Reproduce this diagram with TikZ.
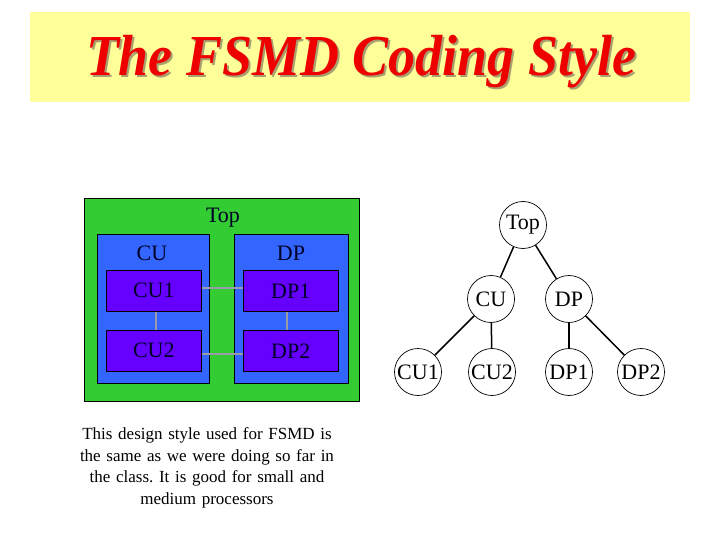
\documentclass[tikz,border=0pt]{standalone}
\usepackage{fontspec}
\setmainfont{Liberation Serif}
\definecolor{titlebg}{HTML}{FFFF99}
\definecolor{titlered}{HTML}{EE0000}
\definecolor{titleshadow}{HTML}{A8A070}
\definecolor{topgreen}{HTML}{33CC33}
\definecolor{boxblue}{HTML}{3366FF}
\definecolor{boxpurple}{HTML}{6600FF}
\definecolor{boxtext}{HTML}{000028}
\definecolor{linkgray}{HTML}{9A9AA8}
\begin{document}
\frenchspacing
\begin{tikzpicture}[x=1pt,y=-1pt,
  lbl/.style={font=\fontsize{22}{24}\selectfont, inner sep=0pt},
  subbox/.style={draw=black, fill=boxpurple, line width=0.6pt},
  link/.style={draw=linkgray, line width=1.8pt},
  tnode/.style={draw=black, circle, line width=0.7pt, minimum size=47pt, inner sep=0pt, font=\fontsize{22}{24}\selectfont},
  tedge/.style={draw=black, line width=1.5pt}]
\useasboundingbox (0,0) rectangle (720,540);
\fill[white] (0,0) rectangle (720,540);
% title
\fill[titlebg] (30,12) rectangle (690,102);
\node[font=\fontsize{58}{60}\bfseries\itshape\selectfont, text=titleshadow, xscale=0.93] (titleshadow) at (363,64) {The FSMD Coding Style};
\node[font=\fontsize{58}{60}\bfseries\itshape\selectfont, text=titlered, xscale=0.93] (title) at (361,62) {The FSMD Coding Style};
% block diagram
\draw[fill=topgreen, line width=0.8pt] (84,198) rectangle (359,401);
\node[lbl, text=boxtext] (toplbl) at (223,218) {Top};
\draw[fill=boxblue, line width=0.7pt] (97,234) rectangle (209,383);
\draw[fill=boxblue, line width=0.7pt] (234,234) rectangle (348,383);
\node[lbl, text=boxtext] (culbl) at (152,253) {CU};
\node[lbl, text=boxtext] (dplbl) at (291,253) {DP};
\path[link] (201,288) -- (243,288);
\path[link] (201,354) -- (243,354);
\path[link] (156,311) -- (156,330);
\path[link] (287,311) -- (287,330);
\node[subbox, minimum width=95pt, minimum height=41pt, anchor=north west] (cu1) at (106,270) {};
\node[subbox, minimum width=95pt, minimum height=41pt, anchor=north west] (cu2) at (106,330) {};
\node[subbox, minimum width=95pt, minimum height=41pt, anchor=north west] (dp1) at (243,270) {};
\node[subbox, minimum width=95pt, minimum height=41pt, anchor=north west] (dp2) at (243,330) {};
\node[lbl, text=boxtext] at (cu1.center) {CU1};
\node[lbl, text=boxtext] at (cu2.center) {CU2};
\node[lbl, text=boxtext] at (dp1.center) {DP1};
\node[lbl, text=boxtext] at (dp2.center) {DP2};
% caption
\node[font=\fontsize{17}{21.5}\selectfont, align=center, text width=300pt] (caption) at (207,468) {This design style used for FSMD is\\ the same as we were doing so far in\\ the class. It is good for small and\\ medium processors};
% tree
\node[tnode] (t) at (523,225) {Top};
\node[tnode] (tcu) at (491,299) {CU};
\node[tnode] (tdp) at (569,299) {DP};
\node[tnode] (tcu1) at (418,372) {CU1};
\node[tnode] (tcu2) at (492,372) {CU2};
\node[tnode] (tdp1) at (569,372) {DP1};
\node[tnode] (tdp2) at (641,372) {DP2};
\path[tedge] (t) -- (tcu);
\path[tedge] (t) -- (tdp);
\path[tedge] (tcu) -- (tcu1);
\path[tedge] (tcu) -- (tcu2);
\path[tedge] (tdp) -- (tdp1);
\path[tedge] (tdp) -- (tdp2);
\end{tikzpicture}
\end{document}
